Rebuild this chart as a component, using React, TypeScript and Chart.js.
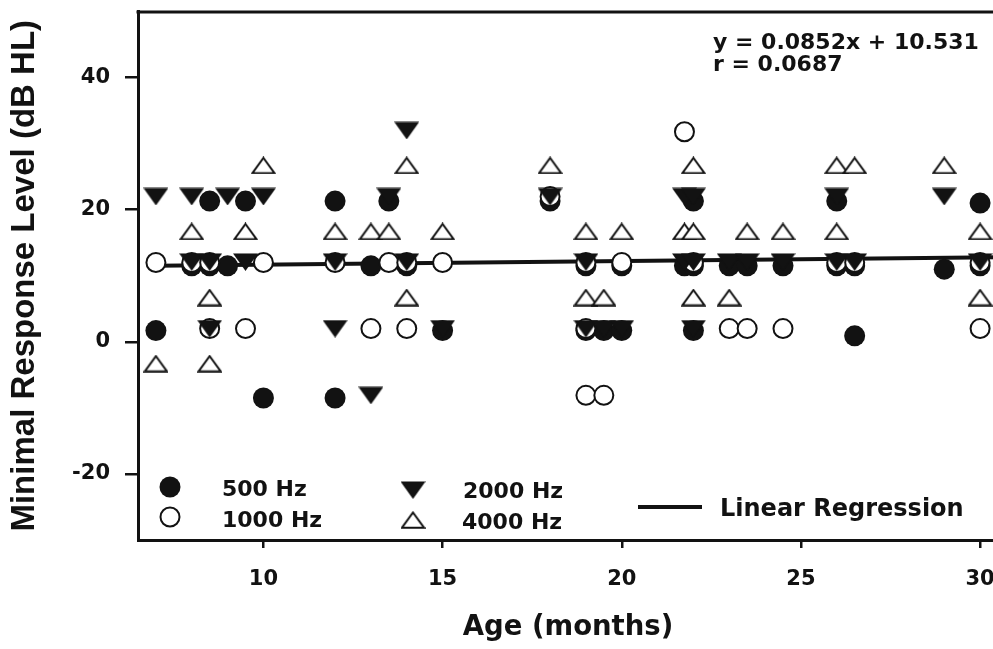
import React, { useEffect, useRef } from 'react';
import { Chart, registerables } from 'chart.js';

Chart.register(...registerables);

// ---- axis ticks ----
const X_TICKS = [10, 15, 20, 25, 30];
const Y_TICKS = [-20, 0, 20, 40];

// ---- 500 Hz (filled circles) ----
const HZ500_X = [8.5, 9.5, 12, 13.5, 18, 22, 26, 30,
  8, 8.5, 9, 13, 14, 19, 20, 21.75, 22, 23, 23.5, 24.5, 26, 26.5, 29, 30,
  7, 15, 19, 19.5, 20, 22, 26.5,
  10, 12];
const HZ500_Y = [21.3, 21.3, 21.3, 21.3, 21.3, 21.3, 21.3, 21.0,
  11.5, 11.5, 11.5, 11.5, 11.5, 11.5, 11.5, 11.5, 11.5, 11.5, 11.5, 11.5, 11.5, 11.5, 11.0, 11.5,
  1.7, 1.7, 1.7, 1.7, 1.7, 1.7, 0.9,
  -8.5, -8.5];

// ---- 1000 Hz (open circles) ----
const HZ1000_X = [21.75,
  18,
  7, 8, 8.5, 10, 12, 13.5, 14, 15, 19, 20, 22, 26, 26.5, 30,
  8.5, 9.5, 13, 14, 19, 23, 23.5, 24.5, 30,
  19, 19.5];
const HZ1000_Y = [31.8,
  22,
  12, 12, 12, 12, 12, 12, 12, 12, 12, 12, 12, 12, 12, 12,
  2, 2, 2, 2, 2, 2, 2, 2, 2,
  -8.1, -8.1];

// ---- 2000 Hz (filled down triangles) ----
const HZ2000_X = [14,
  7, 8, 9, 10, 13.5, 18, 21.75, 22, 26, 29,
  8, 8.5, 9.5, 12, 14, 19, 21.75, 22, 23, 23.5, 24.5, 26, 26.5, 30,
  8.5, 12, 15, 19, 19.5, 20, 22,
  13];
const HZ2000_Y = [32,
  22, 22, 22, 22, 22, 22, 22, 22, 22, 22,
  12.1, 12.1, 12.1, 12.1, 12.1, 12.1, 12.1, 12.1, 12.1, 12.1, 12.1, 12.1, 12.1, 12.1,
  2, 2, 2, 2, 2, 2, 2,
  -8.1];

// ---- 4000 Hz (open up triangles) ----
const HZ4000_X = [10, 14, 18, 22, 26, 26.5, 29,
  8, 9.5, 12, 13, 13.5, 15, 19, 20, 21.75, 22, 23.5, 24.5, 26, 30,
  8.5, 14, 19, 19.5, 22, 23, 30,
  7, 8.5];
const HZ4000_Y = [26.7, 26.7, 26.7, 26.7, 26.7, 26.7, 26.7,
  16.7, 16.7, 16.7, 16.7, 16.7, 16.7, 16.7, 16.7, 16.7, 16.7, 16.7, 16.7, 16.7, 16.7,
  6.7, 6.7, 6.7, 6.7, 6.7, 6.7, 6.7,
  -3.3, -3.3];

// ---- regression line (end points) ----
const REG_X = [7, 30.5];
const REG_Y = [11.5, 12.8];

// ---- texts ----
const SERIES_LABELS = ['500 Hz', '1000 Hz', '2000 Hz', '4000 Hz'];
const REG_LABEL = 'Linear Regression';
const EQ_LINES = ['y = 0.0852x + 10.531', 'r = 0.0687'];
const X_TITLE = 'Age (months)';
const Y_TITLE = 'Minimal Response Level (dB HL)';

const INK = '#121212';
const FONT = 'DejaVu Sans';

function makeTriangle(down: boolean): HTMLCanvasElement {
  const w = 25;
  const h = 18;
  const c = document.createElement('canvas');
  c.width = w;
  c.height = h;
  const g = c.getContext('2d') as CanvasRenderingContext2D;
  g.beginPath();
  if (down) {
    g.moveTo(0, 0.5);
    g.lineTo(w, 0.5);
    g.lineTo(w / 2, h);
    g.closePath();
    g.fillStyle = INK;
    g.fill();
  } else {
    g.moveTo(w / 2, 1.5);
    g.lineTo(w - 1.3, h - 1.2);
    g.lineTo(1.3, h - 1.2);
    g.closePath();
    g.fillStyle = '#ffffff';
    g.fill();
    g.lineWidth = 2;
    g.lineJoin = 'miter';
    g.strokeStyle = INK;
    g.stroke();
  }
  return c;
}

function pts(xs: number[], ys: number[]) {
  return xs.map((x, i) => ({ x, y: ys[i] }));
}

export default function App() {
  const ref = useRef<HTMLCanvasElement | null>(null);

  useEffect(() => {
    if (!ref.current) return;
    const triDown = makeTriangle(true);
    const triUp = makeTriangle(false);

    const overlay = {
      id: 'overlay',
      afterDraw(chart: any) {
        const { ctx, chartArea } = chart;
        const L = chartArea.left;
        const T = chartArea.top;
        const B = chartArea.bottom;
        ctx.save();
        // top frame line
        ctx.strokeStyle = INK;
        ctx.lineWidth = 3;
        ctx.beginPath();
        ctx.moveTo(L - 1.5, T + 0.5);
        ctx.lineTo(chartArea.right, T + 0.5);
        ctx.stroke();

        // equation
        ctx.fillStyle = INK;
        ctx.textAlign = 'left';
        ctx.textBaseline = 'alphabetic';
        ctx.font = `bold 22px "${FONT}"`;
        ctx.fillText(EQ_LINES[0], L + 575, T + 29 + 8);
        ctx.fillText(EQ_LINES[1], L + 575, T + 51 + 8);

        // legend markers
        ctx.fillStyle = INK;
        ctx.beginPath();
        ctx.arc(L + 32, B - 53, 10.5, 0, Math.PI * 2);
        ctx.fill();
        ctx.beginPath();
        ctx.arc(L + 32, B - 23, 9.5, 0, Math.PI * 2);
        ctx.fillStyle = '#ffffff';
        ctx.fill();
        ctx.lineWidth = 2;
        ctx.strokeStyle = INK;
        ctx.stroke();
        ctx.drawImage(triDown, L + 275 - triDown.width / 2, B - 50 - triDown.height / 2);
        ctx.drawImage(triUp, L + 275 - triUp.width / 2, B - 20 - triUp.height / 2);
        // regression legend line
        ctx.lineWidth = 4;
        ctx.beginPath();
        ctx.moveTo(L + 500, B - 33);
        ctx.lineTo(L + 564, B - 33);
        ctx.stroke();

        // legend labels
        ctx.fillStyle = INK;
        ctx.font = `bold 22px "${FONT}"`;
        ctx.fillText(SERIES_LABELS[0], L + 84, B - 52.5 + 8);
        ctx.fillText(SERIES_LABELS[1], L + 84, B - 21 + 8);
        ctx.fillText(SERIES_LABELS[2], L + 325, B - 50 + 8);
        ctx.fillText(SERIES_LABELS[3], L + 324, B - 19.5 + 8);
        ctx.font = `bold 24px "${FONT}"`;
        ctx.fillText(REG_LABEL, L + 582, B - 33 + 9);
        ctx.restore();
      },
    };

    const chart = new Chart(ref.current, {
      type: 'scatter',
      data: {
        datasets: [
          {
            label: REG_LABEL,
            type: 'line',
            data: pts(REG_X, REG_Y),
            borderColor: INK,
            borderWidth: 4,
            pointRadius: 0,
            showLine: true,
            fill: false,
            order: 5,
          } as any,
          {
            label: SERIES_LABELS[0],
            data: pts(HZ500_X, HZ500_Y),
            pointStyle: 'circle',
            pointRadius: 10.5,
            backgroundColor: INK,
            borderColor: INK,
            borderWidth: 0,
            order: 4,
          },
          {
            label: SERIES_LABELS[1],
            data: pts(HZ1000_X, HZ1000_Y),
            pointStyle: 'circle',
            pointRadius: 9.5,
            backgroundColor: '#ffffff',
            borderColor: INK,
            borderWidth: 2,
            order: 3,
          },
          {
            label: SERIES_LABELS[2],
            data: pts(HZ2000_X, HZ2000_Y),
            pointStyle: triDown as any,
            pointRadius: 10,
            order: 2,
          },
          {
            label: SERIES_LABELS[3],
            data: pts(HZ4000_X, HZ4000_Y),
            pointStyle: triUp as any,
            pointRadius: 10,
            order: 1,
          },
        ],
      },
      options: {
        animation: false,
        responsive: false,
        clip: false as any,
        layout: { padding: { top: 10, left: 3, right: 12, bottom: 0 } },
        plugins: {
          legend: { display: false },
          tooltip: { enabled: false },
        },
        scales: {
          x: {
            type: 'linear',
            min: 6.5,
            max: 30.5,
            afterBuildTicks: (s: any) => {
              s.ticks = X_TICKS.map((v) => ({ value: v }));
            },
            afterFit: (s: any) => {
              s.height = 109;
              s.paddingLeft = 0;
              s.paddingRight = 0;
              s.paddingTop = 0;
              s.paddingBottom = 0;
            },
            border: { display: true, color: INK, width: 3 },
            grid: {
              display: true,
              drawOnChartArea: false,
              drawTicks: true,
              tickLength: 8,
              color: INK,
              lineWidth: 2.5,
            },
            ticks: {
              color: INK,
              padding: 19,
              maxRotation: 0,
              font: { family: FONT, weight: 'bold', size: 21 },
            },
            title: {
              display: true,
              text: X_TITLE,
              color: INK,
              padding: { top: 0, bottom: 4.5 },
              font: { family: FONT, weight: 'bold', size: 27.5 },
            },
          },
          y: {
            type: 'linear',
            min: -30,
            max: 50,
            afterBuildTicks: (s: any) => {
              s.ticks = Y_TICKS.map((v) => ({ value: v }));
            },
            afterFit: (s: any) => {
              s.width = 135;
              s.paddingLeft = 0;
              s.paddingRight = 0;
              s.paddingTop = 0;
              s.paddingBottom = 0;
            },
            border: { display: true, color: INK, width: 3 },
            grid: {
              display: true,
              drawOnChartArea: false,
              drawTicks: true,
              tickLength: 13,
              color: INK,
              lineWidth: 2.5,
            },
            ticks: {
              color: INK,
              padding: 15,
              font: { family: FONT, weight: 'bold', size: 21 },
            },
            title: {
              display: true,
              text: Y_TITLE,
              color: INK,
              padding: { top: 2, bottom: 0 },
              font: { family: 'Liberation Sans', weight: 'bold', size: 33 },
            },
          },
        },
      },
      plugins: [overlay],
    });

    return () => chart.destroy();
  }, []);

  return (
    <div
      style={{
        position: 'fixed',
        left: 0,
        top: 0,
        width: 993,
        height: 649,
        overflow: 'hidden',
        background: '#ffffff',
      }}
    >
      <canvas ref={ref} width={1010} height={649} style={{ display: 'block' }} />
    </div>
  );
}
